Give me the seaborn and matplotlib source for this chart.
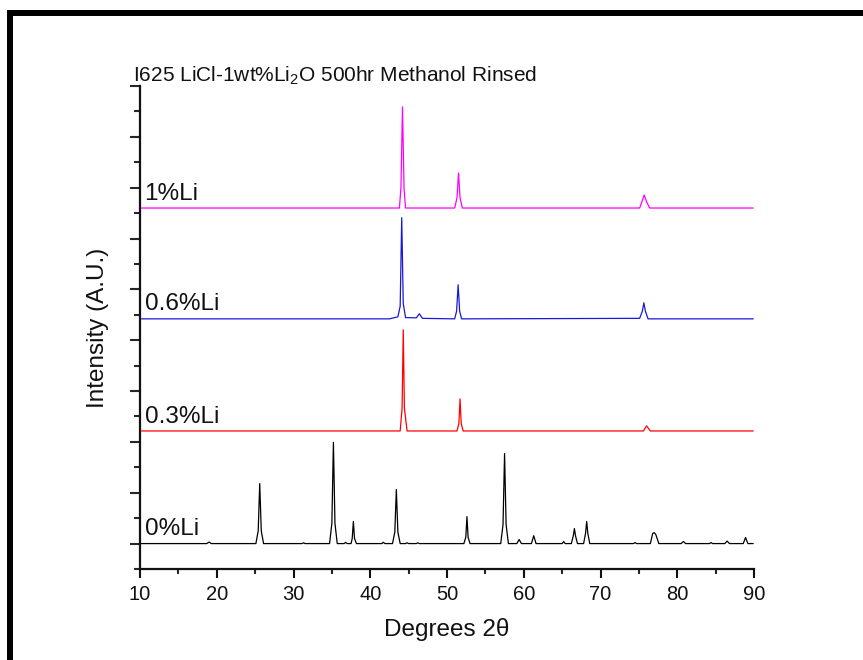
import numpy as np
import pandas as pd
import matplotlib
matplotlib.use("Agg")
import matplotlib.pyplot as plt
from matplotlib.lines import Line2D
import seaborn as sns

# XRD patterns (2-theta in degrees, intensity in arbitrary units above each baseline)
tt_0 = [10.0, 18.7, 19.0, 19.3, 25.1, 25.4, 25.6, 25.8, 26.1, 31.1, 31.3, 31.5,
        34.7, 35.0, 35.2, 35.4, 35.7, 36.6, 36.8, 37.0, 37.5, 37.65, 37.8, 37.95, 38.2,
        41.5, 41.7, 41.9, 42.9, 43.2, 43.4, 43.6, 43.9, 44.6, 44.8, 45.0, 46.0, 46.2, 46.4,
        52.2, 52.45, 52.6, 52.75, 53.0, 57.0, 57.3, 57.5, 57.7, 58.0, 59.1, 59.4, 59.7,
        61.0, 61.3, 61.6, 65.0, 65.2, 65.4, 66.2, 66.45, 66.6, 66.75, 67.0,
        67.8, 68.05, 68.2, 68.35, 68.6, 74.3, 74.5, 74.7, 76.5, 76.8, 77.0, 77.2, 77.6,
        80.5, 80.8, 81.1, 84.2, 84.4, 84.6, 86.2, 86.5, 86.8, 88.6, 88.9, 89.2, 89.9]
int_0 = [0, 0, 0.06, 0, 0, 0.5, 2.36, 0.5, 0, 0, 0.03, 0,
         0, 0.8, 3.98, 0.8, 0, 0, 0.05, 0, 0, 0.2, 0.87, 0.2, 0,
         0, 0.05, 0, 0, 0.45, 2.13, 0.45, 0, 0, 0.03, 0, 0, 0.03, 0,
         0, 0.25, 1.06, 0.25, 0, 0, 0.75, 3.54, 0.75, 0, 0, 0.16, 0,
         0, 0.31, 0, 0, 0.08, 0, 0, 0.3, 0.59, 0.3, 0,
         0, 0.4, 0.87, 0.4, 0, 0, 0.04, 0, 0, 0.4, 0.43, 0.36, 0,
         0, 0.08, 0, 0, 0.04, 0, 0, 0.1, 0, 0, 0.24, 0, 0]

tt_03 = [10.2, 43.9, 44.15, 44.3, 44.45, 44.8, 51.3, 51.55, 51.7, 51.85, 52.1,
         75.6, 76.0, 76.5, 89.9]
int_03 = [0, 0, 0.9, 3.98, 0.9, 0, 0, 0.3, 1.26, 0.3, 0,
          0, 0.2, 0, 0]

tt_06 = [10.2, 42.5, 43.6, 43.9, 44.1, 44.3, 44.6, 46.0, 46.4, 46.8,
         51.0, 51.25, 51.45, 51.65, 51.9, 75.1, 75.45, 75.65, 75.85, 76.2, 89.9]
int_06 = [0, 0, 0.08, 0.5, 3.98, 0.6, 0.05, 0.04, 0.2, 0.02,
          0, 0.3, 1.34, 0.3, 0, 0.02, 0.3, 0.63, 0.3, 0, 0]

tt_1 = [10.2, 43.8, 44.0, 44.2, 44.4, 44.6, 51.0, 51.3, 51.5, 51.7, 52.0,
        75.1, 75.4, 75.7, 76.0, 76.4, 89.9]
int_1 = [0, 0, 0.8, 3.98, 0.8, 0, 0, 0.4, 1.38, 0.4, 0,
         0, 0.25, 0.51, 0.25, 0, 0]

samples = ["0%Li", "0.3%Li", "0.6%Li", "1%Li"]
offsets = [1.0, 5.43, 9.84, 14.2]
colors = ["#000000", "#ff0000", "#1818d8", "#ff00ff"]

frames = []
for name, off, tt, inten in zip(samples, offsets,
                                [tt_0, tt_03, tt_06, tt_1],
                                [int_0, int_03, int_06, int_1]):
    frames.append(pd.DataFrame({"two_theta": tt,
                                "intensity": np.asarray(inten) + off,
                                "sample": name}))
df = pd.concat(frames, ignore_index=True)

sns.set_theme(style="ticks")
plt.rcParams["font.family"] = ["Liberation Sans", "DejaVu Sans"]
plt.rcParams["mathtext.fontset"] = "custom"
plt.rcParams["mathtext.rm"] = "Liberation Sans"
plt.rcParams["mathtext.it"] = "Liberation Sans:italic"

fig = plt.figure(figsize=(8.63, 6.60), dpi=100)
ax = fig.add_axes([140 / 863, 1 - 569 / 660, 614 / 863, 483 / 660])

sns.lineplot(data=df, x="two_theta", y="intensity", hue="sample",
             palette=dict(zip(samples, colors)), sort=False, estimator=None,
             linewidth=0.9, legend=False, ax=ax)

for name, off, c in zip(samples, offsets, colors):
    ax.text(10.6, off + 0.33, name, fontsize=17.5, color="#111111",
            ha="left", va="baseline")

ax.set_xlim(10, 90)
ax.set_ylim(0, 19)
ax.set_xticks(np.arange(10, 91, 10))
ax.set_xticks(np.arange(15, 90, 10), minor=True)
ax.set_yticks(np.arange(1, 20, 2))
ax.set_yticks(np.arange(0, 19, 2), minor=True)
ax.set_yticklabels([])
ax.tick_params(axis="x", which="major", length=6.5, width=1.5, labelsize=14.5,
               direction="out", colors="#111111", pad=5)
ax.tick_params(axis="x", which="minor", length=3.5, width=1.5, direction="out")
ax.tick_params(axis="y", which="major", length=7, width=1.5, direction="out")
ax.tick_params(axis="y", which="minor", length=4.5, width=1.5, direction="out")
for s in ["top", "right"]:
    ax.spines[s].set_visible(False)
for s in ["left", "bottom"]:
    ax.spines[s].set_linewidth(1.6)
    ax.spines[s].set_color("#111111")

ax.set_xlabel("Degrees 2θ", fontsize=17.5, color="#111111", labelpad=10)
ax.set_ylabel("Intensity (A.U.)", fontsize=17.5, color="#111111", labelpad=12)

fig.text(335 / 863, 1 - 82 / 660, "I625 LiCl-1wt%Li$_2$O 500hr Methanol Rinsed",
         fontsize=15, ha="center", va="baseline", color="#111111")

# thick frame along the left and top of the page
fig.add_artist(Line2D([9.7 / 863, 9.7 / 863, 1.0], [0.0, 1 - 12.5 / 660, 1 - 12.5 / 660],
                      transform=fig.transFigure, color="black", linewidth=4.3,
                      solid_joinstyle="miter"))

fig.savefig("out.png", dpi=100)
